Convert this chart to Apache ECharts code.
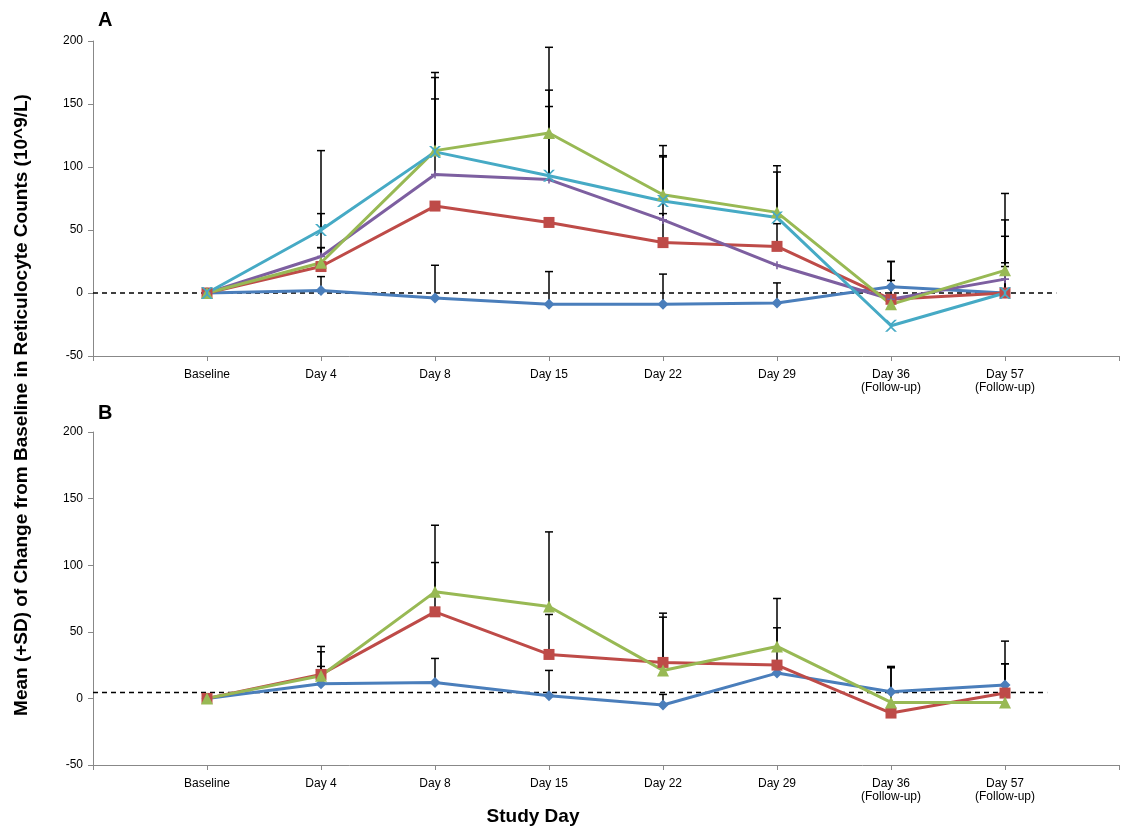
<!DOCTYPE html>
<html><head><meta charset="utf-8">
<script src="https://cdn.jsdelivr.net/npm/echarts@6/dist/echarts.min.js"></script>
<style>html,body{margin:0;padding:0;background:#fff}#c{width:1122px;height:829px}</style>
</head><body><div id="c"></div>
<script>
// category labels, index 1..8 on the x axis (0 and 9 are empty ends)
var days = ["", "Baseline", "Day 4", "Day 8", "Day 15", "Day 22", "Day 29", "Day 36\n(Follow-up)", "Day 57\n(Follow-up)", ""];

// Panel A means
var aBlue   = [0, 2, -4, -9, -9, -8, 5, 0];
var aRed    = [0, 21, 69, 56, 40, 37, -5, 0];
var aPurple = [0, 29, 94, 90, 58, 22, -5, 11];
var aGreen  = [0, 24, 113, 127, 78, 64, -9, 18];
var aCyan   = [0, 50, 112, 93, 73, 60, -26, 0];
// Panel A error bar tops (mean + SD)
var aBlueTop   = [null, 13, 22, 17, 15, 8, 25, 21];
var aRedTop    = [null, 36, null, null, 63, 55, 25, 24];
var aPurpleTop = [null, 63, 154, 148, 108, null, 10, 58];
var aGreenTop  = [null, 36, 175, 195, 117, 101, null, 79];
var aCyanTop   = [null, 113, 171, 161, 109, 96, null, 45];

// Panel B means
var bBlue  = [0, 11, 12, 2, -5, 19, 5, 10];
var bRed   = [0, 18, 65, 33, 27, 25, -11, 4];
var bGreen = [0, 17, 80, 69, 21, 39, -3, -3];
var bBlueTop  = [null, 24, 30, 21, 3, null, 24, 26];
var bRedTop   = [null, 39, 102, 63, 64, 53, 23, 26];
var bGreenTop = [null, 35, 130, 125, 61, 75, null, 43];

var yTicks = [-50, 0, 50, 100, 150, 200];

var colors = {blue: "#4a7ebb", red: "#be4b48", purple: "#7d5fa0", green: "#98b954", cyan: "#46aac5"};
var xMark = "path://M0,0L2,0L5,3L8,0L10,0L6,4L6,6L10,10L8,10L5,7L2,10L0,10L4,6L4,4Z";
var plusMark = "path://M4,0L6,0L6,4L10,4L10,6L6,6L6,10L4,10L4,6L0,6L0,4L4,4Z";

function pts(arr) { return arr.map(function (v, i) { return [i + 1, v]; }); }

function lineS(idx, arr, color, symbol, size) {
  return {
    type: "line", xAxisIndex: idx, yAxisIndex: idx, data: pts(arr), z: 3,
    lineStyle: {color: color, width: 3}, itemStyle: {color: color},
    symbol: symbol, symbolSize: size, animation: false
  };
}

function errS(idx, means, tops) {
  var d = [];
  tops.forEach(function (t, i) { if (t != null) d.push([i + 1, means[i], t]); });
  return {
    type: "custom", xAxisIndex: idx, yAxisIndex: idx, data: d, z: 2, animation: false,
    renderItem: function (params, api) {
      var p0 = api.coord([api.value(0), api.value(1)]);
      var p1 = api.coord([api.value(0), api.value(2)]);
      var st = {stroke: "#000", lineWidth: 1.5};
      return {type: "group", children: [
        {type: "line", shape: {x1: p0[0], y1: p0[1], x2: p1[0], y2: p1[1]}, style: st},
        {type: "line", shape: {x1: p1[0] - 4, y1: p1[1], x2: p1[0] + 4, y2: p1[1]}, style: st}
      ]};
    }
  };
}

function dashS(idx, y, xEnd) {
  return {
    type: "line", xAxisIndex: idx, yAxisIndex: idx, data: [[0, y], [xEnd, y]], symbol: "none",
    lineStyle: {color: "#000", width: 1.5, type: [5, 4]}, z: 1, animation: false
  };
}

function xAx(idx) {
  return {
    type: "value", gridIndex: idx, min: 0, max: 9, interval: 1,
    axisLine: {onZero: false, lineStyle: {color: "#888"}}, axisTick: {length: 5, lineStyle: {color: "#888"}},
    splitLine: {show: false},
    axisLabel: {color: "#000", fontSize: 12, lineHeight: 13, margin: 12,
      formatter: function (v) { return days[v] || ""; }}
  };
}
function yAx(idx) {
  return {
    type: "value", gridIndex: idx, min: yTicks[0], max: yTicks[yTicks.length - 1], interval: 50,
    axisLine: {show: true, lineStyle: {color: "#888"}}, axisTick: {show: true, length: 5, lineStyle: {color: "#888"}},
    splitLine: {show: false}, axisLabel: {color: "#000", fontSize: 12, margin: 10}
  };
}

var chart = echarts.init(document.getElementById("c"));
chart.setOption({
  backgroundColor: "#fff",
  textStyle: {fontFamily: "Liberation Sans, Arial, sans-serif"},
  title: [
    {text: "A", left: 93, top: 5, textStyle: {fontSize: 20, fontWeight: "bold", color: "#000"}},
    {text: "B", left: 93, top: 398, textStyle: {fontSize: 20, fontWeight: "bold", color: "#000"}},
    {text: "Study Day", left: 528, top: 802, textAlign: "center", textStyle: {fontSize: 19, fontWeight: "bold", color: "#000"}}
  ],
  graphic: [{
    type: "text", x: 22, y: 405, rotation: Math.PI / 2,
    style: {text: "Mean (+SD) of Change from Baseline in Reticulocyte Counts (10^9/L)", fontSize: 19, fontWeight: "bold",
      fill: "#000", align: "center", verticalAlign: "middle", fontFamily: "Liberation Sans, Arial, sans-serif"}
  }],
  grid: [
    {left: 93, right: 2, top: 41, height: 315},
    {left: 93, right: 2, top: 432, height: 333}
  ],
  xAxis: [xAx(0), xAx(1)],
  yAxis: [yAx(0), yAx(1)],
  series: [
    dashS(0, 0, 8.45),
    errS(0, aBlue, aBlueTop), errS(0, aRed, aRedTop), errS(0, aPurple, aPurpleTop),
    errS(0, aGreen, aGreenTop), errS(0, aCyan, aCyanTop),
    lineS(0, aBlue, colors.blue, "diamond", 11),
    lineS(0, aRed, colors.red, "rect", 11),
    lineS(0, aPurple, colors.purple, plusMark, 8),
    lineS(0, aGreen, colors.green, "triangle", 12),
    lineS(0, aCyan, colors.cyan, xMark, 12),
    dashS(1, 4.5, 8.37),
    errS(1, bBlue, bBlueTop), errS(1, bRed, bRedTop), errS(1, bGreen, bGreenTop),
    lineS(1, bBlue, colors.blue, "diamond", 11),
    lineS(1, bRed, colors.red, "rect", 11),
    lineS(1, bGreen, colors.green, "triangle", 12)
  ]
});
</script>
</body></html>
